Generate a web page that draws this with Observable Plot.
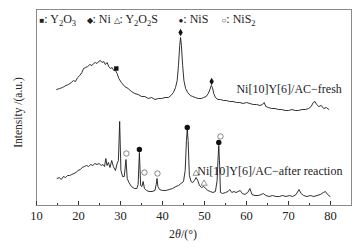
<!DOCTYPE html>
<html><head><meta charset="utf-8">
<script src="https://cdn.jsdelivr.net/npm/d3@7"></script>
<script src="https://cdn.jsdelivr.net/npm/@observablehq/plot@0.6"></script>
<style>body{margin:0;background:#fff} svg{display:block}</style>
</head><body><div id="chart"></div>
<script>
const freshTheta = [
 14.8,15.5,16.2,17.0,17.6,18.3,18.8,19.3,19.8,20.3,
 20.8,21.2,21.7,22.2,22.7,23.2,23.6,24.0,24.4,24.8,
 25.2,25.6,26.0,26.4,26.8,27.2,27.6,28.0,28.4,28.8,
 29.2,29.6,30.2,31.0,31.8,32.6,33.4,34.2,35.0,35.8,
 36.6,37.4,38.2,39.0,39.8,40.6,41.4,42.0,42.6,43.1,
 43.5,43.8,44.1,44.3,44.5,44.8,45.1,45.5,46.0,46.6,
 47.2,47.8,48.5,49.2,49.8,50.4,50.9,51.3,51.6,51.9,
 52.2,52.6,53.2,53.8,54.5,55.2,56.0,56.8,57.6,58.4,
 59.2,60.0,60.8,61.6,62.4,63.2,63.8,64.2,64.6,65.2,
 66.0,66.8,67.6,68.4,69.2,70.0,70.8,71.6,72.4,73.2,
 74.0,74.8,75.4,75.9,76.3,76.7,77.2,77.8,78.4,79.0,
 79.6];
const freshIntensity = [
 116,117,118,120,121,123,125,124,128,130,
 133,137,138,139,141,140,142,143,142,144,
 145,143,144,141,143,139,137,138,135,135,
 132,127,123,119,117,114,112,111,109,109,
 107,108,106,107,107,108,108,110,113,118,
 125,140,160,168,160,140,125,117,113,110,
 109,108,107,107,108,109,112,116,120,118,
 112,108,106,106,105,105,104,104,103,103,
 102,103,102,101,101,100,101,103,99,98,
 97,97,96,96,95,95,96,95,95,96,
 96,97,99,103,104,101,99,100,97,98,
 96];
const afterTheta = [
 14.9,15.4,15.9,16.4,16.9,17.4,17.9,18.4,18.9,19.4,
 19.9,20.4,20.9,21.4,21.9,22.4,22.9,23.4,23.9,24.4,
 24.9,25.4,25.8,26.2,26.5,26.8,27.1,27.5,27.9,28.3,
 28.8,29.2,29.5,29.8,30.1,30.5,30.9,31.3,31.6,32.0,
 32.6,33.3,33.9,34.2,34.5,34.8,35.1,35.4,35.7,36.2,
 36.8,37.5,38.2,38.5,38.7,38.9,39.3,40.0,40.8,41.6,
 42.4,43.2,43.8,44.4,45.0,45.4,45.7,45.9,46.1,46.4,
 46.8,47.2,47.6,48.0,48.4,48.8,49.3,49.8,50.3,50.8,
 51.4,52.0,52.6,53.0,53.2,53.4,53.6,53.8,54.3,55.0,
 55.6,56.0,56.5,57.0,57.5,58.0,58.5,59.0,59.6,60.3,
 60.8,61.3,62.0,62.8,63.5,64.0,64.6,65.4,66.2,67.0,
 67.8,68.6,69.4,70.2,71.0,71.8,72.5,73.0,73.6,74.4,
 75.2,76.0,76.8,77.6,78.3,78.8,79.3,79.9];
const afterIntensity = [
 27,28,26,29,28,30,30,31,32,33,
 35,36,38,39,40,39,41,40,42,41,
 42,40,41,39,47,40,43,38,45,39,
 35,42,45,84,35,29,29,46,27,23,
 19,17,17,21,53,20,19,24,17,15,
 14,14,15,21,27,19,16,15,15,16,
 17,19,20,22,24,35,65,76,65,30,
 24,23,25,28,25,20,18,19,17,15,
 14,13,14,25,45,60,40,13,12,13,
 14,16,13,14,13,14,15,12,11,13,
 17,11,10,10,11,12,10,9,10,9,
 9,10,9,10,9,11,16,12,10,9,
 10,9,10,11,13,14,11,9];

// peak markers
const markerTheta = [29.0, 44.3, 51.7, 48.0, 49.9, 34.5, 45.9, 53.4, 31.4, 35.7, 38.8, 53.8];
const markerIntensity = [137, 173, 124, 32, 22, 56, 78, 63, 52, 33, 32, 69];
const markerPhase = ["Y2O3","Ni","Ni","Y2O2S","Y2O2S","NiS","NiS","NiS","NiS2","NiS2","NiS2","NiS2"];

// legend
const legendSymbols = ["■","◆","△","●","○"];
const legendNames = ["Y2O3","Ni","Y2O2S","NiS","NiS2"];

// curve labels
const curveLabelText = ["Ni[10]Y[6]/AC−fresh", "Ni[10]Y[6]/AC−after reaction"];
const curveLabelTheta = [57.6, 48.3];
const curveLabelIntensity = [116, 34];

const majorTicks = [10,20,30,40,50,60,70,80];
const minorTicks = [15,25,35,45,55,65,75];

const fresh = freshTheta.map((t,i)=>({t, v: freshIntensity[i]}));
const after = afterTheta.map((t,i)=>({t, v: afterIntensity[i]}));
const markers = markerTheta.map((t,i)=>({t, v: markerIntensity[i], p: markerPhase[i]}));
const curveLabels = curveLabelText.map((s,i)=>({s, t: curveLabelTheta[i], v: curveLabelIntensity[i]}));
const legendOffsets = [3, 50, 77, 142, 185];
const legend = legendNames.map((n,i)=>({label: legendSymbols[i] + ": " + n, dx: legendOffsets[i]}));
const byPhase = p => markers.filter(d => d.p === p);

const plot = Plot.plot({
  width: 364, height: 248,
  marginLeft: 36, marginRight: 13, marginTop: 9, marginBottom: 43,
  style: {fontFamily: "'Liberation Serif','Times New Roman',serif", fontSize: "12px", background: "#fff", color: "#222"},
  x: {domain: [10, 85]},
  y: {domain: [0, 196], axis: null},
  marks: [
    Plot.frame({stroke: "#8a8a8a"}),
    Plot.ruleX(majorTicks, {y1: 0, y2: 4, stroke: "#333"}),
    Plot.ruleX(minorTicks, {y1: 0, y2: 2, stroke: "#333"}),
    Plot.axisX(majorTicks, {tickSize: 0, tickPadding: 6, label: null, tickFormat: d => String(d), fill: "#222", fontSize: 12.5}),
    Plot.line(fresh, {x: "t", y: "v", stroke: "#1a1a1a", strokeWidth: 0.9}),
    Plot.line(after, {x: "t", y: "v", stroke: "#1a1a1a", strokeWidth: 0.9}),
    Plot.dot(byPhase("Y2O3"), {x: "t", y: "v", symbol: "square", r: 2.5, fill: "#111"}),
    Plot.dot(byPhase("Ni"), {x: "t", y: "v", symbol: "diamond", r: 2.3, fill: "#111"}),
    Plot.dot(byPhase("Y2O2S"), {x: "t", y: "v", symbol: "triangle", r: 2.3, fill: "none", stroke: "#777", strokeWidth: 0.8}),
    Plot.dot(byPhase("NiS"), {x: "t", y: "v", symbol: "circle", r: 2.7, fill: "#111"}),
    Plot.dot(byPhase("NiS2"), {x: "t", y: "v", symbol: "circle", r: 2.7, fill: "none", stroke: "#666", strokeWidth: 0.8}),
    Plot.text(curveLabels, {x: "t", y: "v", text: "s", textAnchor: "start", fontSize: 12, fill: "#222"}),
    ...legend.map(l => Plot.text([l.label], {frameAnchor: "top-left", dx: l.dx, dy: 10, textAnchor: "start", lineAnchor: "middle", fontSize: 12, fill: "#222"})),
    Plot.text(["Intensity /(a.u.)"], {frameAnchor: "left", dx: -18, dy: 5, rotate: -90, textAnchor: "middle", lineAnchor: "middle", fontSize: 11.5, fill: "#222"}),
    Plot.text(["2θ/(°)"], {frameAnchor: "bottom", dx: -11, dy: 29, lineAnchor: "middle", fontSize: 12, fill: "#222"})
  ]
});
document.getElementById("chart").appendChild(plot);

// typographic touch-ups: subscripts in legend and italic theta
const legendLabels = new Set(legend.map(l => l.label));
d3.select(plot).selectAll("text").each(function() {
  const el = d3.select(this);
  const txt = this.textContent;
  if (legendLabels.has(txt)) {
    el.text(null);
    el.append("tspan").attr("font-size", 8).text(txt[0]);
    const parts = txt.slice(1).match(/[0-9]+|[^0-9]+/g);
    let shifted = false;
    for (const part of parts) {
      const isDigit = /^[0-9]/.test(part);
      const ts = el.append("tspan").text(part);
      if (isDigit) { ts.attr("font-size", 8.5).attr("dy", 3); shifted = true; }
      else if (shifted) { ts.attr("dy", -3); shifted = false; }
    }
  } else if (txt === "2θ/(°)") {
    el.text(null);
    el.append("tspan").text("2");
    el.append("tspan").attr("font-style", "italic").text("θ");
    el.append("tspan").text("/(°)");
  }
});
</script>
</body></html>
